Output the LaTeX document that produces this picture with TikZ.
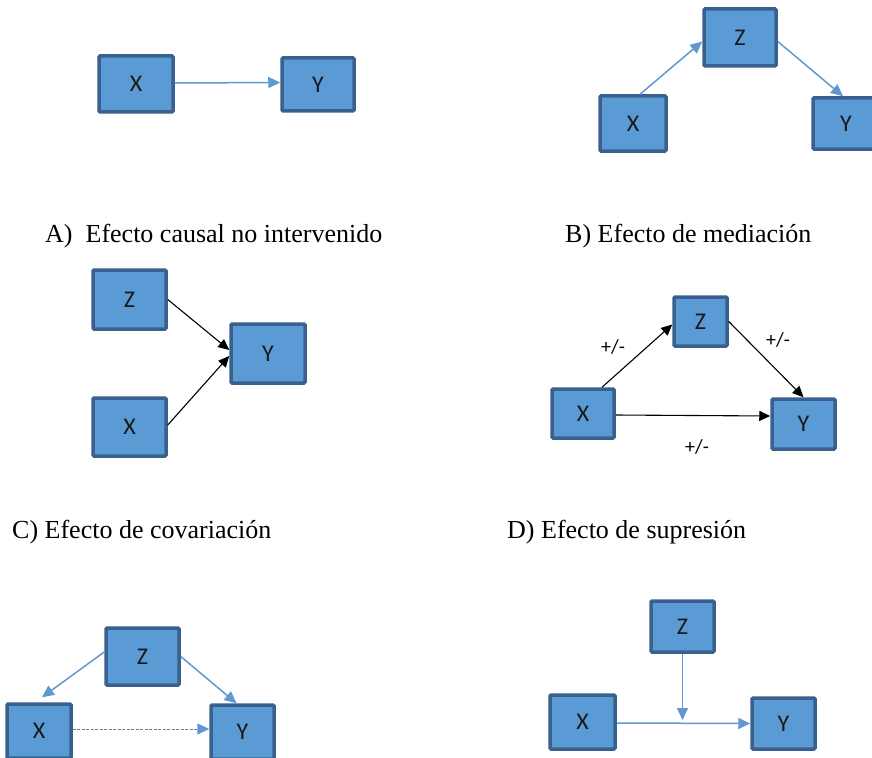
\documentclass[tikz,border=0pt]{standalone}
\usepackage{fontspec}
\setmainfont{Liberation Serif}
\newfontfamily\boxfont{Carlito}
\usetikzlibrary{arrows.meta}
\definecolor{cajaazul}{RGB}{91,155,213}
\definecolor{bordeazul}{RGB}{58,96,142}
\definecolor{flechaazul}{RGB}{96,152,207}
\begin{document}
\begin{tikzpicture}[x=1pt, y=-1pt,
        var/.style={rectangle, draw=bordeazul, line width=3.5pt, fill=cajaazul, rounded corners=1pt, minimum width=74pt, minimum height=58pt, inner sep=0pt, font=\boxfont\fontsize{24}{28}\selectfont, text=black!90},
        caption/.style={anchor=west, inner sep=0pt, font=\fontsize{26}{30}\selectfont},
        arrow/.style={line width=1.5pt, draw=flechaazul, -{Triangle[length=12pt, width=11pt]}},
        darrow/.style={line width=1.1pt, draw=black, -{Triangle[length=11pt, width=10pt]}},
        signo/.style={font=\boxfont\fontsize{20}{24}\selectfont}
    ]
        \clip (0,0) rectangle (872,757);

        % A
        \node[var, minimum width=74pt, minimum height=56pt] (xA) at (136,84) {X};
        \node[var, minimum width=72pt, minimum height=53pt] (yA) at (318,84.5) {Y};
        \draw[arrow] ([yshift=1pt]xA.east) -- ([yshift=2pt]yA.west);
        \node[caption] (capA) at (45,236) {A)\ \ Efecto causal no intervenido};

        % B
        \node[var, minimum width=72pt, minimum height=57pt] (zB) at (740,37.5) {Z};
        \node[var, minimum width=66pt, minimum height=55pt] (xB) at (633,123.5) {X};
        \node[var, minimum width=66pt, minimum height=51pt] (yB) at (846,123.5) {Y};
        \draw[arrow] ([xshift=7pt]xB.north) -- ([yshift=-4pt]zB.west);
        \draw[arrow] ([yshift=-4pt]zB.east) -- ([xshift=-3pt]yB.north);
        \node[caption] (capB) at (565,236) {B) Efecto de mediación};

        % C
        \node[var, minimum width=73pt, minimum height=59pt] (zC) at (129.5,299.5) {Z};
        \node[var, minimum width=74pt, minimum height=59pt] (yC) at (268,353.5) {Y};
        \node[var, minimum width=73pt, minimum height=58pt] (xC) at (129.5,427) {X};
        \draw[darrow] (zC.east) -- ([yshift=3.5pt]yC.west);
        \draw[darrow] ([yshift=2pt]xC.east) -- ([yshift=-2.5pt]yC.west);
        \node[caption] (capC) at (12,532) {C) Efecto de covariación};

        % D
        \node[var, minimum width=53pt, minimum height=49pt] (zD) at (700.5,321.5) {Z};
        \node[var, minimum width=62pt, minimum height=49pt] (xD) at (583,413.5) {X};
        \node[var, minimum width=63pt, minimum height=50pt] (yD) at (803.5,424) {Y};
        \draw[darrow] ([xshift=19pt]xD.north) -- ([yshift=-3pt]zD.west);
        \draw[darrow] (zD.east) -- (yD.north);
        \draw[darrow] ([yshift=-1.5pt]xD.east) -- ([yshift=8pt]yD.west);
        \node[signo] (sXZ) at (613,347) {+/-};
        \node[signo] (sZY) at (778,340) {+/-};
        \node[signo] (sXY) at (697,447) {+/-};
        \node[caption] (capD) at (507,532) {D) Efecto de supresión};

        % E
        \node[var, minimum width=73pt, minimum height=57pt] (zE) at (142.5,656.5) {Z};
        \node[var, minimum width=64pt, minimum height=54pt] (xE) at (39,731) {X};
        \node[var, minimum width=63pt, minimum height=54pt] (yE) at (242.5,732) {Y};
        \draw[arrow] ([yshift=4.5pt]zE.west) -- ([xshift=3pt,yshift=5pt]xE.north);
        \draw[arrow] (zE.east) -- ([xshift=-6pt]yE.north);
        \draw[arrow, line width=1pt, draw=bordeazul!80, dash pattern=on 3pt off 1.5pt, -{Triangle[length=12pt, width=11pt, color=flechaazul]}] ([yshift=2pt]xE.east) -- ([yshift=3pt]yE.west);

        % F
        \node[var, minimum width=63pt, minimum height=51pt] (zF) at (682.5,626.5) {Z};
        \node[var, minimum width=65pt, minimum height=54pt] (xF) at (582.5,722) {X};
        \node[var, minimum width=63pt, minimum height=51pt] (yF) at (783.5,723.5) {Y};
        \coordinate (cruce) at (682.5,720);
        \draw[arrow] (zF.south) -- (cruce);
        \draw[arrow] ([yshift=-1pt]xF.east) -- (yF.west);
    \end{tikzpicture}
\end{document}
